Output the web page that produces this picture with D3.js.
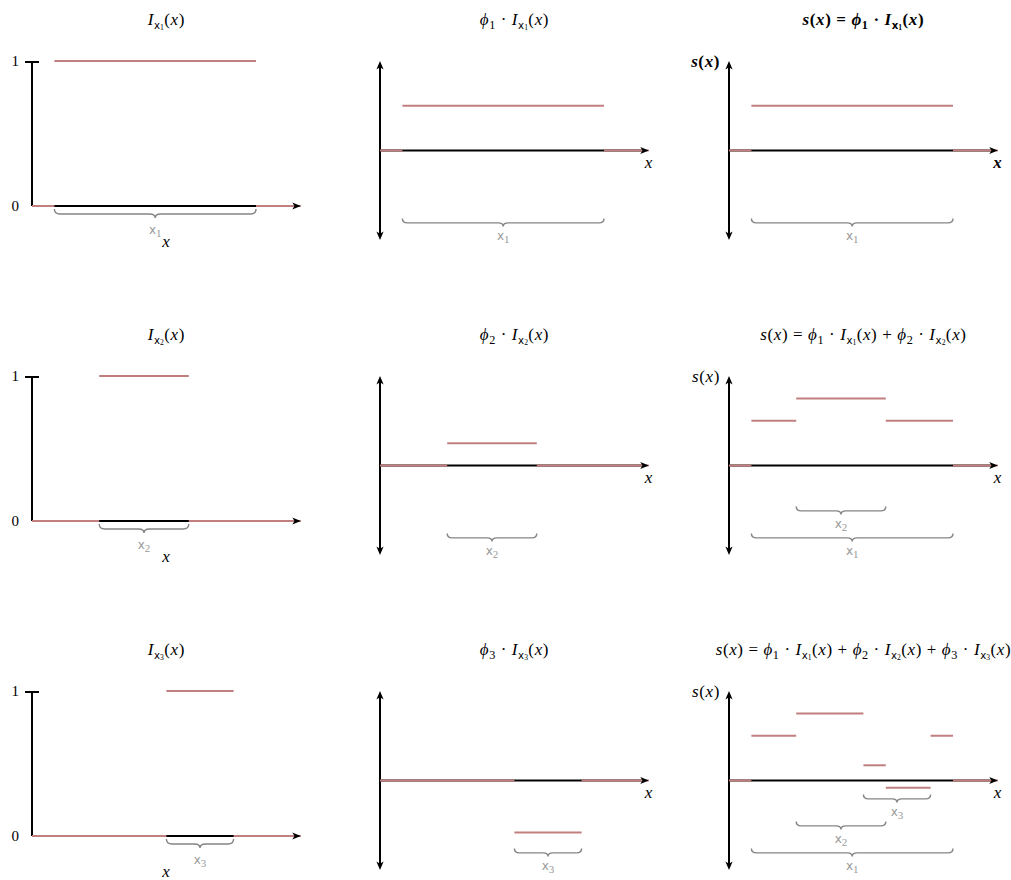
<!DOCTYPE html>
<html>
<head>
<meta charset="utf-8">
<script src="https://cdn.jsdelivr.net/npm/d3@7"></script>
<style>
  body { margin: 0; background: #fff; }
  svg { display: block; }
</style>
</head>
<body>
<svg id="chart" width="1011" height="880"></svg>
<script>
// x range shared by every panel
const xDomain = [0, 12];

// the three intervals x1, x2, x3 and their weights
const intervalNames = ["1", "2", "3"];
const intervalStart = [1, 3, 6];
const intervalEnd = [10, 7, 9];
const phi = [0.5, 0.25, -0.58];

// s(x) after adding each term: step breakpoints and step values
const sBreaks = [
  [0, 1, 10, 12],
  [0, 1, 3, 7, 10, 12],
  [0, 1, 3, 6, 7, 9, 10, 12]
];
const sValues = [
  [0, 0.5, 0],
  [0, 0.5, 0.75, 0.5, 0],
  [0, 0.5, 0.75, 0.17, -0.08, 0.5, 0]
];

// left column y ticks
const indTicks = [0, 1];
const indTickLabels = ["0", "1"];

const RED = "#c27f7f";
const SERIF = "'Liberation Serif', 'DejaVu Serif', serif";
const SANS = "'DejaVu Sans', sans-serif";

const colX = [32, 380, 729];
const rowY = [61, 376, 691];

const svg = d3.select("#chart");

const x = d3.scaleLinear().domain(xDomain).range([0, 268.8]);
const yInd = d3.scaleLinear().domain([0, 1]).range([145, 0]);
const ySig = d3.scaleLinear().domain([-1, 1]).range([179, 0]);

// arrow head pointing right, tip at origin
const arrowPath = "M0,0 L-8.5,-3.6 L-6.3,0 L-8.5,3.6 Z";

function arrow(g, px, py, angle) {
  g.append("path")
    .attr("d", arrowPath)
    .attr("fill", "#000")
    .attr("transform", `translate(${px},${py}) rotate(${angle})`);
}

// tokens are [text, kind]: i italic, r roman, s subscript, sx small sans x subscript, n tiny subscript
function mathText(g, px, py, tokens, opts = {}) {
  const size = opts.size || 17;
  const t = g.append("text")
    .attr("x", px).attr("y", py)
    .attr("text-anchor", opts.anchor || "middle")
    .attr("font-family", SERIF)
    .attr("font-size", size)
    .attr("letter-spacing", opts.spacing == null ? 0.6 : opts.spacing)
    .attr("font-weight", opts.bold ? "bold" : "normal")
    .attr("fill", opts.color || "#000");
  let cur = 0;
  tokens.forEach(([s, k]) => {
    const off = { s: 3.5, sx: 3.5, n: 5 }[k] || 0;
    const ts = t.append("tspan").attr("dy", off - cur).text(s);
    cur = off;
    if (k === "i") ts.attr("font-style", "italic");
    if (k === "s") ts.attr("font-size", size * 0.72);
    if (k === "sx") ts.attr("font-size", size * 0.6).attr("font-family", SANS).attr("letter-spacing", 0);
    if (k === "n") ts.attr("font-size", size * 0.45).attr("letter-spacing", 0.4);
  });
  return t;
}

function indTokens(k) {
  return [["I", "i"], ["x", "sx"], [intervalNames[k], "n"], ["(", "r"], ["x", "i"], [")", "r"]];
}

function termTokens(k) {
  return [["ϕ", "i"], [intervalNames[k], "s"], [" · ", "r"]].concat(indTokens(k));
}

function sumTokens(n) {
  let tok = [["s", "i"], ["(", "r"], ["x", "i"], [")", "r"], [" = ", "r"]];
  for (let k = 0; k <= n; k++) {
    if (k > 0) tok.push([" + ", "r"]);
    tok = tok.concat(termTokens(k));
  }
  return tok;
}

function brace(g, x0, x1, y, h) {
  const m = (x0 + x1) / 2, r = Math.min(h / 2 + 1, (x1 - x0) / 4);
  const ym = y + h * 0.55;
  const d = `M${x0},${y} Q${x0},${ym} ${x0 + r},${ym} L${m - r},${ym} Q${m},${ym} ${m},${y + h}` +
    ` Q${m},${ym} ${m + r},${ym} L${x1 - r},${ym} Q${x1},${ym} ${x1},${y}`;
  g.append("path").attr("d", d).attr("fill", "none")
    .attr("stroke", "#858585").attr("stroke-width", 1.4);
}

function braceLabel(g, px, py, k) {
  const t = g.append("text").attr("x", px).attr("y", py)
    .attr("text-anchor", "middle").attr("fill", "#999")
    .attr("font-family", SANS).attr("font-size", 12);
  t.append("tspan").text("x");
  t.append("tspan").attr("dy", 3).attr("font-family", SERIF).attr("font-size", 11).text(intervalNames[k]);
}

function steps(g, breaks, values, y) {
  const segs = values.map((v, i) => ({ a: breaks[i], b: breaks[i + 1], v }));
  g.selectAll(null).data(segs).enter().append("line")
    .attr("x1", d => x(d.a)).attr("x2", d => x(d.b))
    .attr("y1", d => y(d.v)).attr("y2", d => y(d.v))
    .attr("stroke", RED).attr("stroke-width", 2);
}

function signalAxes(g) {
  g.append("line").attr("x1", 0).attr("x2", 0).attr("y1", ySig(-1) - 4).attr("y2", ySig(1) + 4)
    .attr("stroke", "#000").attr("stroke-width", 2);
  g.append("line").attr("x1", x(0)).attr("x2", x(12) - 4).attr("y1", ySig(0)).attr("y2", ySig(0))
    .attr("stroke", "#000").attr("stroke-width", 2);
}

for (let r = 0; r < 3; r++) {
  const a = intervalStart[r], b = intervalEnd[r];

  // left column: indicator function
  const g1 = svg.append("g").attr("transform", `translate(${colX[0]},${rowY[r]})`);
  mathText(g1, x(6), -36, indTokens(r));
  g1.append("line").attr("x1", 0).attr("x2", 0).attr("y1", yInd(0)).attr("y2", yInd(1))
    .attr("stroke", "#000").attr("stroke-width", 2);
  g1.append("line").attr("x1", -7).attr("x2", 7).attr("y1", yInd(1) + 1).attr("y2", yInd(1) + 1)
    .attr("stroke", "#000").attr("stroke-width", 2);
  g1.append("line").attr("x1", x(0)).attr("x2", x(12) - 4).attr("y1", yInd(0)).attr("y2", yInd(0))
    .attr("stroke", "#000").attr("stroke-width", 2);
  const ax = g1.append("g").call(d3.axisLeft(yInd).tickValues(indTicks)
    .tickFormat((d, i) => indTickLabels[i]).tickSize(0).tickPadding(13));
  ax.select(".domain").remove();
  ax.selectAll("text").attr("font-family", SERIF).attr("font-size", 15).attr("fill", "#000");
  steps(g1, [0, a, b, 12], [0, 1, 0], yInd);
  arrow(g1, x(12), yInd(0), 0);
  brace(g1, x(a), x(b), yInd(0) + 3, 9);
  braceLabel(g1, x((a + b) / 2), yInd(0) + 28, r);
  mathText(g1, x(6), yInd(0) + 41, [["x", "i"]]);

  // middle column: weighted indicator
  const g2 = svg.append("g").attr("transform", `translate(${colX[1]},${rowY[r]})`);
  mathText(g2, x(6), -36, termTokens(r));
  signalAxes(g2);
  steps(g2, [0, a, b, 12], [0, phi[r], 0], ySig);
  arrow(g2, x(12), ySig(0), 0);
  arrow(g2, 0, ySig(1), -90);
  arrow(g2, 0, ySig(-1), 90);
  brace(g2, x(a), x(b), ySig(0) + 68, 8);
  braceLabel(g2, x((a + b) / 2), ySig(0) + 89, r);
  mathText(g2, x(12), ySig(0) + 17, [["x", "i"]]);

  // right column: running sum s(x)
  const bold = r === 0;
  const g3 = svg.append("g").attr("transform", `translate(${colX[2]},${rowY[r]})`);
  mathText(g3, x(6), -36, sumTokens(r), { bold });
  signalAxes(g3);
  steps(g3, sBreaks[r], sValues[r], ySig);
  arrow(g3, x(12), ySig(0), 0);
  arrow(g3, 0, ySig(1), -90);
  arrow(g3, 0, ySig(-1), 90);
  for (let k = 0; k <= r; k++) {
    const yb = ySig(0) + 68 - 27 * k;
    brace(g3, x(intervalStart[k]), x(intervalEnd[k]), yb, 8);
    braceLabel(g3, x((intervalStart[k] + intervalEnd[k]) / 2), yb + 21, k);
  }
  mathText(g3, x(12), ySig(0) + 17, [["x", "i"]], { bold });
  mathText(g3, -9, 6, [["s", "i"], ["(", "r"], ["x", "i"], [")", "r"]], { anchor: "end", bold });
}
</script>
</body>
</html>
